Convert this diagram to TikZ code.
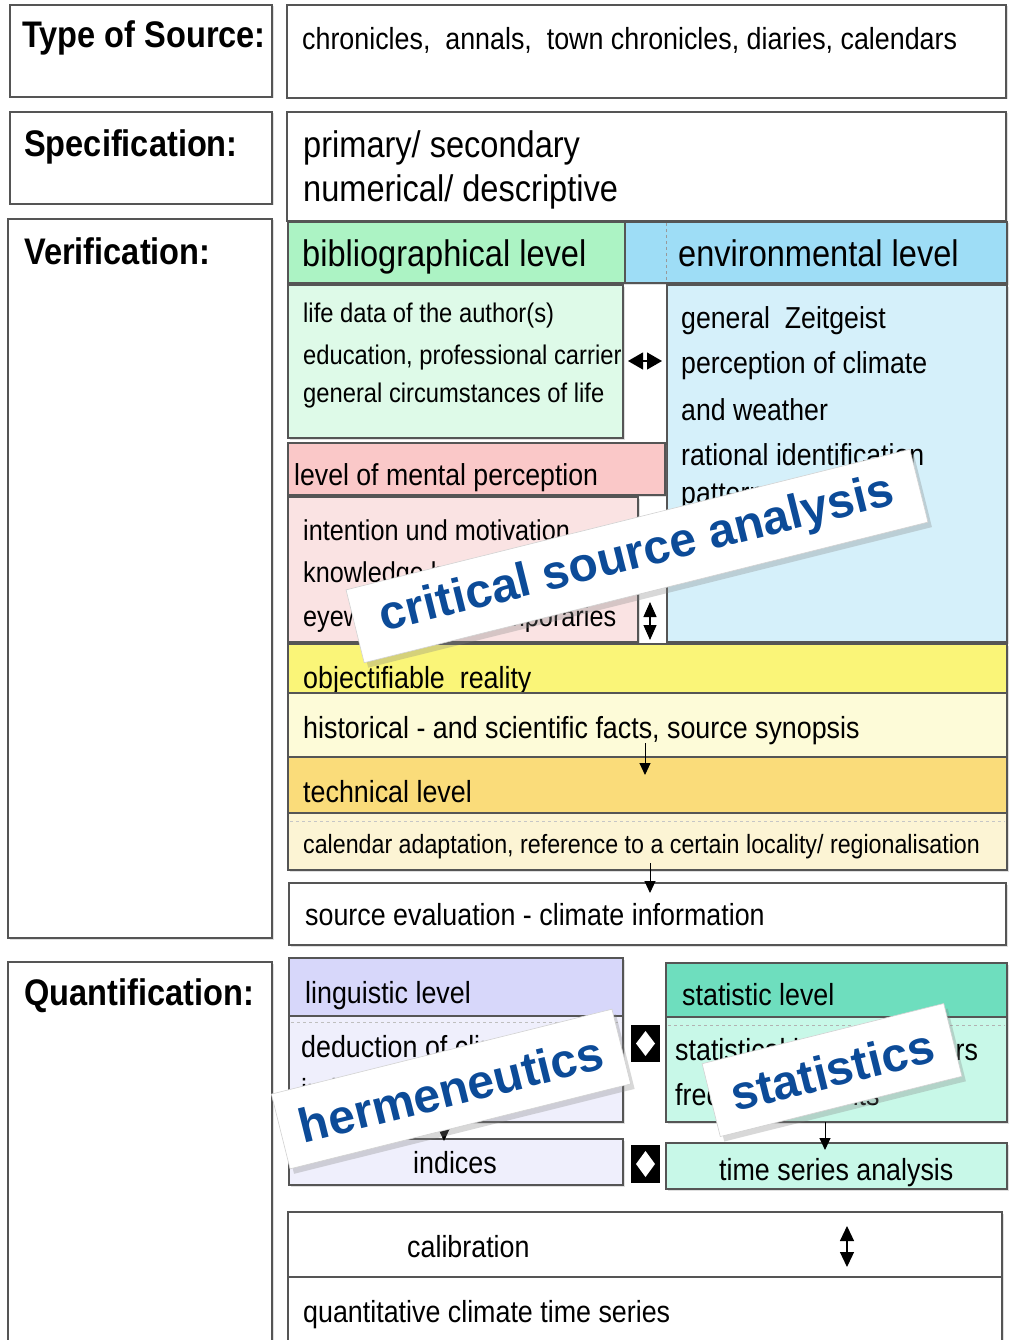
\documentclass[tikz,border=0pt]{standalone}
\usepackage{fontspec}
\setmainfont{Liberation Sans}[FakeStretch=0.88]
\newfontfamily\bannerfont{Liberation Sans}
\usetikzlibrary{fit,shadows,arrows.meta}
\definecolor{boxline}{RGB}{85,85,85}
\definecolor{bibH}{RGB}{172,243,196}
\definecolor{bibC}{RGB}{222,250,232}
\definecolor{envH}{RGB}{158,221,246}
\definecolor{envC}{RGB}{213,240,250}
\definecolor{mentH}{RGB}{250,200,200}
\definecolor{mentC}{RGB}{250,227,227}
\definecolor{objH}{RGB}{250,245,120}
\definecolor{histC}{RGB}{253,251,216}
\definecolor{techH}{RGB}{250,220,122}
\definecolor{calC}{RGB}{252,244,212}
\definecolor{lingH}{RGB}{215,215,250}
\definecolor{lingC}{RGB}{239,239,252}
\definecolor{statH}{RGB}{110,222,190}
\definecolor{statC}{RGB}{200,248,232}
\definecolor{bannerblue}{RGB}{12,75,152}
\newcommand\fs[1]{\fontsize{#1}{#1}\selectfont}
\tikzset{
  box/.style={draw=boxline, line width=1.3pt, inner sep=0pt, outer sep=0pt,
    drop shadow={shadow xshift=1.5pt, shadow yshift=-1.5pt, opacity=0.25}},
  txt/.style={anchor=base west, inner sep=0pt, font=\fs{30.5}},
  lab/.style={anchor=base west, inner sep=0pt, font=\bfseries\fs{37}},
  divider/.style={draw=boxline!60, dashed, line width=0.8pt},
  arr/.style={line width=1pt, -{Triangle[width=11pt,length=12pt]}},
  dbl/.style={line width=1.2pt, {Triangle[width=#1,length=15pt]}-{Triangle[width=#1,length=15pt]}},
  sq/.style={fill=black, inner sep=0pt, outer sep=0pt},
  banner/.style={fill=white, draw=gray!35, line width=0.6pt, inner sep=0pt, rotate=14,
    minimum height=75pt, text=bannerblue, font=\bannerfont\bfseries\fs{48},
    drop shadow={shadow xshift=4pt, shadow yshift=-5pt, opacity=0.3}},
}
\begin{document}
\begin{tikzpicture}[x=1pt,y=-1pt]
\fill[white] (0,0) rectangle (1010,1340);
\useasboundingbox (0,0) rectangle (1010,1340);
% left label column
\node[box, fill=white, fit={(10,5)(272,97)}] (lType) {};
\node[box, fill=white, fit={(10,112)(272,204)}] (lSpec) {};
\node[box, fill=white, fit={(8,219)(272,938)}] (lVer) {};
\node[box, fill=white, fit={(8,962)(272,1360)}] (lQuant) {};
\node[lab] (tType) at (22,48) {Type of Source:};
\node[lab] (tSpec) at (24,157) {Specification:};
\node[lab] (tVer) at (24,265) {Verification:};
\node[lab] (tQuant) at (24,1005) {Quantification:};
% type and specification
\node[box, fill=white, fit={(287,5)(1006,98)}] (rType) {};
\node[txt] (xType) at (302,50) {chronicles,\ \ annals,\ \ town chronicles, diaries, calendars};
\node[box, fill=white, fit={(287,112)(1006,221)}] (rSpec) {};
\node[txt, font=\fs{37}] (xSpec1) at (303,158) {primary/ secondary};
\node[txt, font=\fs{37}] (xSpec2) at (303,202) {numerical/ descriptive};
% verification headers
\node[box, fill=bibH, fit={(288,222)(625,283)}] (bibH) {};
\node[box, fill=envH, fit={(625,222)(1007,283)}] (envH) {};
\draw[divider] (666,223) -- (666,282);
\node[txt, font=\fs{37}] (xBibH) at (302,266) {bibliographical level};
\node[txt, font=\fs{37}] (xEnvH) at (678,266) {environmental level};
% bibliographical content
\node[box, fill=bibC, fit={(288,285)(623,438)}] (bibC) {};
\node[txt, font=\fs{27}] (xBib1) at (303,322) {life data of the author(s)};
\node[txt, font=\fs{27}] (xBib2) at (303,364) {education, professional carrier};
\node[txt, font=\fs{27}] (xBib3) at (303,402) {general circumstances of life};
% environmental content
\node[box, fill=envC, fit={(667,285)(1007,642)}] (envC) {};
\node[txt, font=\fs{30.3}] (xEnv1) at (681,328) {general\ \ Zeitgeist};
\node[txt, font=\fs{30.3}] (xEnv2) at (681,373) {perception of climate};
\node[txt, font=\fs{30.3}] (xEnv3) at (681,420) {and weather};
\node[txt, font=\fs{30.3}] (xEnv4) at (681,465) {rational identification};
\node[txt, font=\fs{30.3}] (xEnv5) at (681,503) {patterns};
% mental perception
\node[box, fill=mentH, fit={(288,443)(665,495)}] (mentH) {};
\node[txt, font=\fs{30.3}] (xMentH) at (294,485) {level of mental perception};
\node[box, fill=mentC, fit={(288,497)(638,642)}] (mentC) {};
\node[txt, font=\fs{28.7}] (xMent1) at (303,540) {intention und motivation};
\node[txt, font=\fs{28.7}] (xMent2) at (303,582) {knowledge background};
\node[txt, font=\fs{28.7}] (xMent3) at (303,626) {eyewitness, contemporaries};
% double arrows
\coordinate (dh1) at (628,361); \coordinate (dh2) at (662,361);
\draw[dbl=17pt] (dh1) -- (dh2);
\coordinate (dv1) at (650,602); \coordinate (dv2) at (650,640);
\draw[dbl=13pt] (dv1) -- (dv2);
% objectifiable reality
\node[box, fill=objH, fit={(288,644)(1007,693)}] (objH) {};
\node[txt] (xObj) at (303,688) {objectifiable\ \ reality};
\node[box, fill=histC, fit={(288,693)(1007,757)}] (histC) {};
\node[txt] (xHist) at (303,738) {historical - and scientific facts, source synopsis};
\node[box, fill=techH, fit={(288,757)(1007,813)}] (techH) {};
\node[txt] (xTech) at (303,802) {technical level};
\node[box, fill=calC, fit={(288,813)(1007,870)}] (calC) {};
\draw[divider, draw=gray!45] (290,821) -- (1005,821);
\node[txt, font=\fs{26.4}] (xCal) at (303,853) {calendar adaptation, reference to a certain locality/ regionalisation};
\node[box, fill=white, fit={(289,883)(1006,945)}] (srcEv) {};
\node[txt] (xSrc) at (305,925) {source evaluation - climate information};
\coordinate (a1s) at (645,743); \coordinate (a1e) at (645,775);
\draw[arr] (a1s) -- (a1e);
\coordinate (a2s) at (650,863); \coordinate (a2e) at (650,893);
\draw[arr] (a2s) -- (a2e);
% quantification: linguistic
\node[box, fill=lingH, fit={(289,958)(623,1016)}] (lingH) {};
\node[txt] (xLingH) at (305,1003) {linguistic level};
\node[box, fill=lingC, fit={(289,1016)(623,1122)}] (lingC) {};
\draw[divider, draw=gray!50] (291,1022) -- (621,1022);
\node[txt] (xLing1) at (301,1057) {deduction of climate};
\node[txt] (xLing2) at (301,1100) {indicators (ordinal)};
\node[box, fill=lingC, fit={(289,1139)(623,1185)}] (indC) {};
\node[txt] (xInd) at (413,1173) {indices};
\coordinate (a3s) at (444,1122); \coordinate (a3e) at (444,1141);
\draw[arr] (a3s) -- (a3e);
% black squares
\node[sq, fit={(631,1025)(660,1062)}] (sq1) {};
\fill[white] (645.5,1031) -- (655,1043.5) -- (645.5,1056) -- (636,1043.5) -- cycle;
\node[sq, fit={(631,1145)(660,1183)}] (sq2) {};
\fill[white] (645.5,1151) -- (655,1164) -- (645.5,1177) -- (636,1164) -- cycle;
% statistic
\node[box, fill=statH, fit={(666,963)(1007,1017)}] (statH) {};
\node[txt] (xStatH) at (682,1005) {statistic level};
\node[box, fill=statC, fit={(666,1017)(1007,1122)}] (statC) {};
\draw[divider, draw=gray!60] (668,1025) -- (1005,1025);
\node[txt] (xStat1) at (675,1060) {statistical key parameters};
\node[txt] (xStat2) at (675,1105) {frequency counts};
\node[box, fill=statC, fit={(666,1143)(1007,1189)}] (tsC) {};
\node[txt] (xTs) at (719,1180) {time series analysis};
\coordinate (a4s) at (825,1122); \coordinate (a4e) at (825,1150);
\draw[arr] (a4s) -- (a4e);
% calibration and result
\node[box, fill=white, fit={(288,1212)(1002,1277)}] (calib) {};
\node[txt] (xCalib) at (407,1257) {calibration};
\coordinate (dv3) at (847,1226); \coordinate (dv4) at (847,1267);
\draw[dbl=14pt] (dv3) -- (dv4);
\node[box, fill=white, fit={(288,1277)(1002,1360)}] (quant) {};
\draw[boxline, line width=2pt] (calib.south west) -- (calib.south east);
\node[txt] (xQuant) at (303,1322) {quantitative climate time series};
% banners
\node[banner, minimum width=581pt] (bCSA) at (637,556) {critical source analysis};
\node[banner, minimum width=351pt, minimum height=77pt] (bHerm) at (451,1089) {hermeneutics};
\node[banner, minimum width=249pt] (bStat) at (832,1070) {statistics};
\end{tikzpicture}
\end{document}
